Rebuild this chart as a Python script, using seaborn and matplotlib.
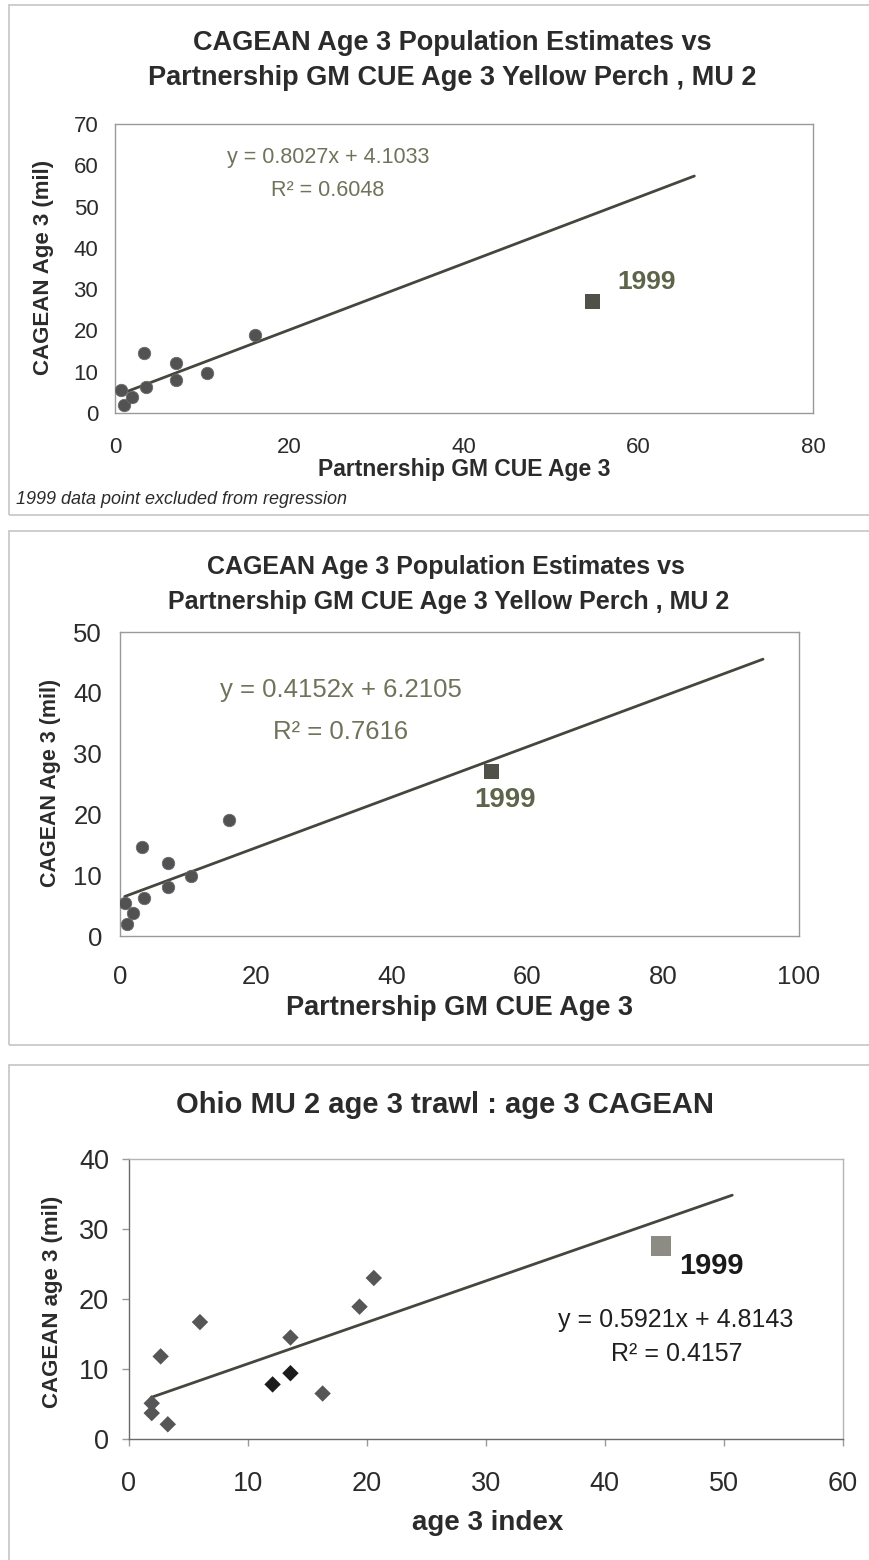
import numpy as np
import pandas as pd
import matplotlib
matplotlib.use("Agg")
import matplotlib.pyplot as plt
import seaborn as sns
from matplotlib.patches import Rectangle

# ---------------- data ----------------
cue_age3 = [0.7, 1.0, 1.9, 3.3, 3.6, 7.0, 7.0, 10.5, 16.1]
cagean_age3 = [5.5, 2.0, 3.8, 14.6, 6.2, 12.0, 8.0, 9.8, 19.0]
cue_1999 = [54.7]
cagean_1999 = [27.1]

trawl_index = [1.95, 1.95, 3.3, 2.7, 6.0, 12.1, 13.6, 13.6, 16.3, 19.4, 20.6]
cagean_trawl = [5.1, 3.7, 2.1, 11.8, 16.7, 7.8, 9.4, 14.5, 6.5, 18.9, 23.0]
trawl_group = ["g", "g", "g", "g", "g", "k", "k", "g", "g", "g", "g"]
trawl_1999 = [44.7]
cagean_trawl_1999 = [27.6]

# regression lines (slope, intercept) and x-extent of drawn trendline
fit1 = (0.8027, 4.1033); fit1_x = [0.7, 66.4]
fit2 = (0.4152, 6.2105); fit2_x = [0.7, 94.7]
fit3 = (0.5921, 4.8143); fit3_x = [1.9, 50.7]

title_12 = ["CAGEAN Age 3 Population Estimates vs",
            "Partnership GM CUE Age 3 Yellow Perch , MU 2"]
title_3 = "Ohio MU 2 age 3 trawl : age 3 CAGEAN"
eq1 = ["y = 0.8027x + 4.1033", "R² = 0.6048"]
eq2 = ["y = 0.4152x + 6.2105", "R² = 0.7616"]
eq3 = ["y = 0.5921x + 4.8143", "R² = 0.4157"]

# ---------------- style ----------------
sns.set_style("white")
plt.rcParams["font.family"] = ["Liberation Sans", "DejaVu Sans"]

W, H = 869, 1560
fig = plt.figure(figsize=(W / 100, H / 100), dpi=100)
fig.patch.set_facecolor("white")

def fx(px):
    return px / W

def fy(py):
    return 1 - py / H

def axes_px(l, t, r, b):
    return fig.add_axes([fx(l), fy(b), (r - l) / W, (b - t) / H])

TXT = "#2b2b2b"
OLIVE = "#6f735a"
OLIVE_B = "#5e6449"
PT = "#525252"
LINE = "#46463e"

# panel frames (right side runs off the page as in the scan)
for (l, t, r, b) in [(9, 5, 890, 515), (9, 531, 890, 1045), (9, 1065, 890, 1590)]:
    fig.patches.append(Rectangle((fx(l), fy(b)), (r - l) / W, (b - t) / H,
                                 transform=fig.transFigure, fill=False,
                                 edgecolor="#c9c9c9", linewidth=1.3))

def style_axes(ax, spine_col="#9a9a9a", lw=1.0):
    for s in ax.spines.values():
        s.set_color(spine_col)
        s.set_linewidth(lw)
        s.set_visible(True)

def trend(ax, fit, xr):
    xs = np.array(xr)
    df = pd.DataFrame({"x": xs, "y": fit[0] * xs + fit[1]})
    sns.lineplot(data=df, x="x", y="y", ax=ax, color=LINE, linewidth=2.0,
                 legend=False)

# ================= panel 1 =================
ax1 = axes_px(115, 124, 813, 413)
df1 = pd.DataFrame({"x": cue_age3, "y": cagean_age3})
trend(ax1, fit1, fit1_x)
sns.scatterplot(data=df1, x="x", y="y", ax=ax1, color=PT, s=80,
                edgecolor="#6a6a6a", linewidth=0.6, zorder=3)
sns.scatterplot(x=cue_1999, y=cagean_1999, ax=ax1, marker="s", color="#50524a",
                s=120, edgecolor="none", zorder=3)
ax1.set_xlim(0, 80); ax1.set_ylim(0, 70)
ax1.set_xticks(range(0, 81, 20)); ax1.set_yticks(range(0, 71, 10))
ax1.tick_params(axis="both", length=0, labelsize=16, colors=TXT)
ax1.tick_params(axis="y", pad=12)
ax1.tick_params(axis="x", pad=17)
style_axes(ax1)
ax1.set_xlabel("Partnership GM CUE Age 3", fontsize=16.5, fontweight="bold",
               color=TXT, va="center")
ax1.xaxis.set_label_coords(0.5, -0.194)
ax1.set_ylabel("CAGEAN Age 3 (mil)", fontsize=16, fontweight="bold",
               color=TXT, va="center")
ax1.yaxis.set_label_coords(-0.102, 0.505)
fig.text(fx(452), fy(43), title_12[0], ha="center", va="center",
         fontsize=19.5, fontweight="bold", color=TXT)
fig.text(fx(452), fy(78), title_12[1], ha="center", va="center",
         fontsize=19.5, fontweight="bold", color=TXT)
fig.text(fx(328), fy(157), eq1[0], ha="center", va="center", fontsize=15.5, color=OLIVE)
fig.text(fx(328), fy(190), eq1[1], ha="center", va="center", fontsize=15.5, color=OLIVE)
fig.text(fx(647), fy(282), "1999", ha="center", va="center", fontsize=19,
         fontweight="bold", color=OLIVE_B)
fig.text(fx(16), fy(500), "1999 data point excluded from regression",
         ha="left", va="center", fontsize=13, style="italic", color=TXT)

# ================= panel 2 =================
ax2 = axes_px(120, 632, 799, 936)
df2 = pd.DataFrame({"x": cue_age3, "y": cagean_age3})
trend(ax2, fit2, fit2_x)
sns.scatterplot(data=df2, x="x", y="y", ax=ax2, color=PT, s=80,
                edgecolor="#6a6a6a", linewidth=0.6, zorder=3)
sns.scatterplot(x=cue_1999, y=cagean_1999, ax=ax2, marker="s", color="#50524a",
                s=110, edgecolor="none", zorder=3)
ax2.set_xlim(0, 100); ax2.set_ylim(0, 50)
ax2.set_xticks(range(0, 101, 20)); ax2.set_yticks(range(0, 51, 10))
ax2.tick_params(axis="both", length=0, labelsize=18.5, colors=TXT)
ax2.tick_params(axis="y", pad=13)
ax2.tick_params(axis="x", pad=21)
style_axes(ax2)
ax2.set_xlabel("Partnership GM CUE Age 3", fontsize=19.5, fontweight="bold",
               color=TXT, va="center")
ax2.xaxis.set_label_coords(0.5, -0.237)
ax2.set_ylabel("CAGEAN Age 3 (mil)", fontsize=15.5, fontweight="bold",
               color=TXT, va="center")
ax2.yaxis.set_label_coords(-0.103, 0.503)
fig.text(fx(446), fy(567), title_12[0], ha="center", va="center",
         fontsize=18, fontweight="bold", color=TXT)
fig.text(fx(449), fy(602), title_12[1], ha="center", va="center",
         fontsize=18, fontweight="bold", color=TXT)
fig.text(fx(341), fy(690), eq2[0], ha="center", va="center", fontsize=18.5, color=OLIVE)
fig.text(fx(341), fy(732), eq2[1], ha="center", va="center", fontsize=18.5, color=OLIVE)
fig.text(fx(505), fy(800), "1999", ha="center", va="center", fontsize=20,
         fontweight="bold", color=OLIVE_B)

# ================= panel 3 =================
ax3 = axes_px(128.5, 1159, 843, 1439)
df3 = pd.DataFrame({"x": trawl_index, "y": cagean_trawl, "grp": trawl_group})
trend(ax3, fit3, fit3_x)
sns.scatterplot(data=df3, x="x", y="y", hue="grp", palette={"g": "#565656", "k": "#1c1c1c"},
                ax=ax3, marker="D", s=70, edgecolor="none", legend=False, zorder=3)
sns.scatterplot(x=trawl_1999, y=cagean_trawl_1999, ax=ax3, marker="s", color="#8c8c84",
                s=200, edgecolor="none", zorder=3)
ax3.set_xlim(0, 60); ax3.set_ylim(0, 40)
ax3.set_xticks(range(0, 61, 10)); ax3.set_yticks(range(0, 41, 10))
ax3.tick_params(axis="both", direction="out", length=5, width=1, color="#9a9a9a",
                labelsize=19.5, labelcolor=TXT)
ax3.tick_params(axis="y", pad=9, left=True)
ax3.tick_params(axis="x", pad=18, bottom=True)
style_axes(ax3, spine_col="#b5b5b5")
ax3.spines["left"].set_color("#6a6a6a")
ax3.spines["bottom"].set_color("#6a6a6a")
ax3.set_xlabel("age 3 index", fontsize=20, fontweight="bold", color=TXT, va="center")
ax3.xaxis.set_label_coords(0.502, -0.30)
ax3.set_ylabel("CAGEAN age 3 (mil)", fontsize=16, fontweight="bold", color=TXT,
               va="center")
ax3.yaxis.set_label_coords(-0.1057, 0.49)
fig.text(fx(445), fy(1105), title_3, ha="center", va="center",
         fontsize=21, fontweight="bold", color=TXT)
fig.text(fx(676), fy(1320), eq3[0], ha="center", va="center", fontsize=18, color="#1f1f1f")
fig.text(fx(677), fy(1354), eq3[1], ha="center", va="center", fontsize=18, color="#1f1f1f")
fig.text(fx(711), fy(1266), "1999", ha="center", va="center", fontsize=21,
         fontweight="bold", color="#1a1a1a")

fig.savefig("out.png", dpi=100, facecolor="white")
